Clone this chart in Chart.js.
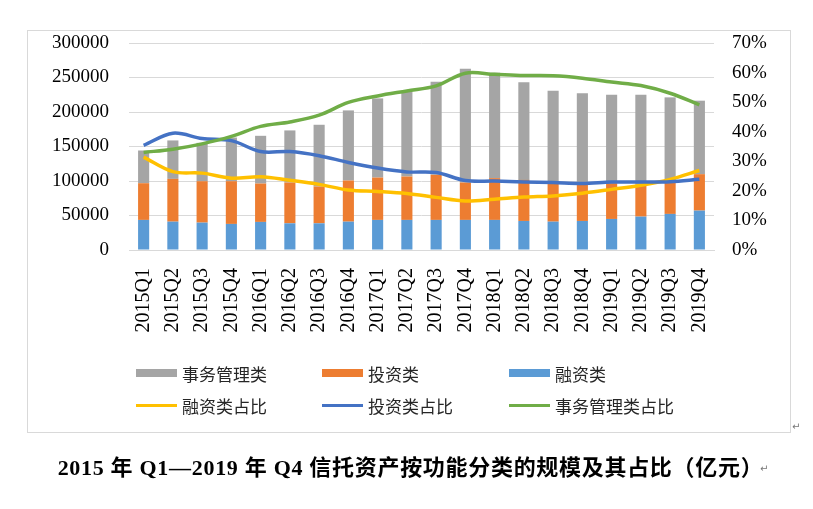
<!DOCTYPE html>
<html><head><meta charset="utf-8">
<script src="https://cdn.jsdelivr.net/npm/chart.js@4/dist/chart.umd.min.js"></script>
<style>
html,body{margin:0;padding:0;background:#fff;}
#wrap{position:relative;width:813px;height:509px;overflow:hidden;background:#fff;}
#c{position:absolute;left:0;top:0;}
#frame{position:absolute;left:27px;top:30px;width:762px;height:401px;border:1px solid #D9D9D9;pointer-events:none;}
.lg{position:absolute;height:22px;display:flex;align-items:center;font-family:'Noto Sans CJK SC',sans-serif;font-size:17px;color:#262626;white-space:nowrap;}
.mk{display:inline-block;width:41px;margin-right:5px;}
#title{position:absolute;left:4px;width:813px;top:454px;text-align:center;font-family:'Liberation Serif','Noto Sans CJK SC',serif;font-weight:bold;font-size:22px;letter-spacing:0.7px;color:#000;line-height:28px;}
.pm{position:absolute;font-family:'DejaVu Sans',sans-serif;font-size:10px;color:#777;}
</style></head>
<body>
<div id="wrap">
<canvas id="c" width="813" height="509"></canvas>
<div id="frame"></div>
<div id="legend"></div>
<div id="title">2015 年 Q1—2019 年 Q4 信托资产按功能分类的规模及其占比（亿元）</div>
<div class="pm" style="left:792px;top:421px;">↵</div>
<div class="pm" style="left:760px;top:463px;">↵</div>
</div>
<script>
const categories = ['2015Q1','2015Q2','2015Q3','2015Q4','2016Q1','2016Q2','2016Q3','2016Q4','2017Q1','2017Q2','2017Q3','2017Q4','2018Q1','2018Q2','2018Q3','2018Q4','2019Q1','2019Q2','2019Q3','2019Q4'];
// 亿元
const financing  = [43600,41100,39700,37800,40700,38700,38700,41100,43600,43600,43600,43600,43600,42100,41100,42100,45000,48400,52300,57100];
const investment = [53200,62000,60000,61900,55600,59100,53300,59600,61400,62900,65300,54200,60500,59500,54700,54700,51800,46000,46900,52800];
const affairs    = [47400,55700,55600,63300,69200,75500,89500,101600,114700,123400,135000,165000,152900,141400,135100,130200,128300,130700,122000,106500];
// %
const financingShare  = [31.4,26.5,26.0,24.3,24.8,23.6,22.2,20.3,19.8,19.1,17.8,16.6,17.2,17.9,18.3,19.2,20.5,21.9,23.9,26.9];
const investmentShare = [35.4,39.5,37.7,37.0,33.3,33.3,31.9,29.6,27.7,26.4,26.2,23.5,23.3,23.0,22.8,22.5,23.0,23.0,23.1,23.9];
const affairsShare    = [33.0,34.1,35.9,38.4,41.8,43.3,45.6,49.9,52.1,53.8,55.5,59.8,59.4,59.0,58.9,58.1,56.8,55.6,53.0,49.1];
const leftTicks  = [0,50000,100000,150000,200000,250000,300000];
const rightTicks = [0,10,20,30,40,50,60,70];

const serif = "'Liberation Serif','Times New Roman',serif";
const ctx = document.getElementById('c').getContext('2d');
const chart = new Chart(ctx, {
  type: 'bar',
  data: {
    labels: categories,
    datasets: [
      {type:'line', label:'融资类占比', data:financingShare, yAxisID:'y1', borderColor:'#FFC000', backgroundColor:'#FFC000', borderWidth:3.5, pointRadius:0, tension:0.35, order:2},
      {type:'line', label:'投资类占比', data:investmentShare, yAxisID:'y1', borderColor:'#4472C4', backgroundColor:'#4472C4', borderWidth:3.5, pointRadius:0, tension:0.35, order:1},
      {type:'line', label:'事务管理类占比', data:affairsShare, yAxisID:'y1', borderColor:'#70AD47', backgroundColor:'#70AD47', borderWidth:3.5, pointRadius:0, tension:0.35, order:0},
      {label:'融资类', data:financing, backgroundColor:'#5B9BD5', yAxisID:'y', stack:'s', order:3, categoryPercentage:1, barPercentage:0.38},
      {label:'投资类', data:investment, backgroundColor:'#ED7D31', yAxisID:'y', stack:'s', order:4, categoryPercentage:1, barPercentage:0.38},
      {label:'事务管理类', data:affairs, backgroundColor:'#A5A5A5', yAxisID:'y', stack:'s', order:5, categoryPercentage:1, barPercentage:0.38}
    ]
  },
  options: {
    responsive:false, animation:false, devicePixelRatio:1,
    layout:{padding:{top:43,left:0,right:0,bottom:0}},
    plugins:{legend:{display:false}, tooltip:{enabled:false}},
    scales:{
      x:{stacked:true, grid:{display:false, drawTicks:false}, border:{display:true,color:'#D9D9D9',width:1},
         ticks:{minRotation:90,maxRotation:90,autoSkip:false,padding:18,color:'#000',font:{family:serif,size:20}},
         afterFit(s){s.height=259;}},
      y:{stacked:true, position:'left', min:0, max:300000,
         afterBuildTicks(s){s.ticks = leftTicks.map(v=>({value:v}));},
         ticks:{padding:20,color:'#000',font:{family:serif,size:19},callback:v=>String(v)},
         grid:{color:'#D9D9D9',lineWidth:1,drawTicks:false}, border:{display:false},
         afterFit(s){s.width=129;}},
      y1:{position:'right', min:0, max:70,
         afterBuildTicks(s){s.ticks = rightTicks.map(v=>({value:v}));},
         ticks:{padding:18,color:'#000',font:{family:serif,size:19},callback:v=>v+'%'},
         grid:{drawOnChartArea:false,drawTicks:false}, border:{display:false},
         afterFit(s){s.width=99;}}
    }
  }
});

// HTML legend built from the chart's datasets (Excel-style 3-column grid)
const legendOrder = [5,4,3,0,1,2];
const colLeft = [136,322,509];
const rowTop = [362,394];
const lg = document.getElementById('legend');
legendOrder.forEach((di,i)=>{
  const ds = chart.data.datasets[di];
  const item = document.createElement('div');
  item.className='lg';
  item.style.left = colLeft[i%3]+'px';
  item.style.top = rowTop[Math.floor(i/3)]+'px';
  const mk = document.createElement('span');
  mk.className='mk';
  if (ds.type==='line'){ mk.style.height='3px'; mk.style.background=ds.borderColor; }
  else { mk.style.height='8px'; mk.style.background=ds.backgroundColor; }
  const tx = document.createElement('span');
  tx.textContent = ds.label;
  item.appendChild(mk); item.appendChild(tx);
  lg.appendChild(item);
});
</script>
</body></html>
